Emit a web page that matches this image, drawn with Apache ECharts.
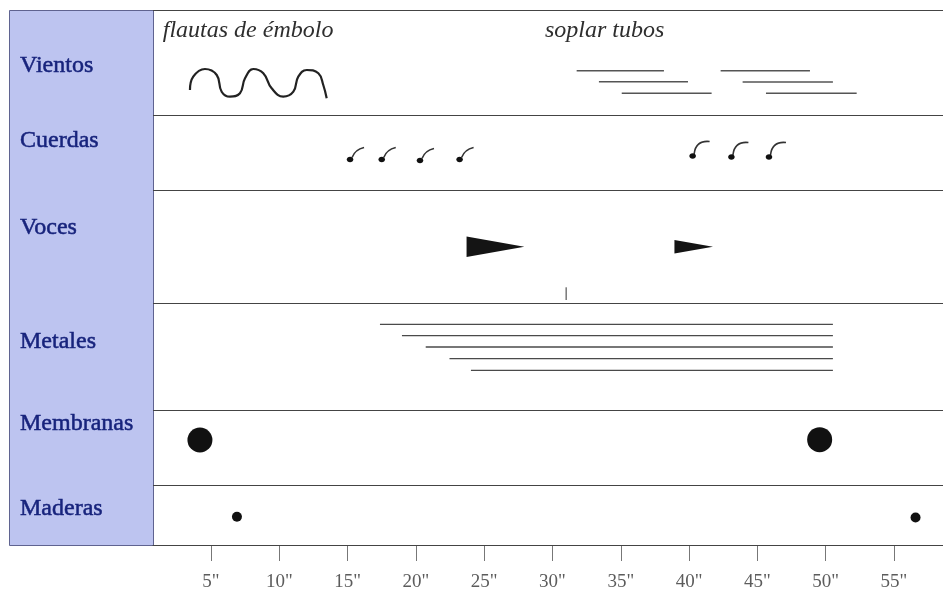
<!DOCTYPE html>
<html><head><meta charset="utf-8">
<script src="https://cdn.jsdelivr.net/npm/echarts@6/dist/echarts.min.js"></script>
<style>html,body{margin:0;padding:0;background:#fff}#c{width:943px;height:592px}</style>
</head><body><div id="c"></div>
<script>
// ---- data (time in seconds on x; vertical position in score units, 0 = top) ----
const rows = ['Vientos', 'Cuerdas', 'Voces', 'Metales', 'Membranas', 'Maderas'];
const rowLabelY = [56, 131, 218, 332, 414, 499];
const rowBounds = [0, 105, 180, 293, 400, 475, 535];
const timeTicks = [5, 10, 15, 20, 25, 30, 35, 40, 45, 50, 55];

const annotations = ['flautas de émbolo', 'soplar tubos'];
const annotX = [1.47, 29.45];
const annotY = [21, 21];

// Vientos: flautas de émbolo (glissando wave)
const flautaX = [3.46, 3.70, 4.56, 5.42, 5.78, 6.39, 7.12, 7.49, 8.10, 8.83, 9.44, 10.29, 11.03, 11.39, 12.01, 12.86, 13.22, 13.47];
const flautaY = [80, 66.7, 59, 65, 81.7, 86.7, 83.3, 68.3, 59, 63.3, 78.3, 86.7, 81.7, 66.7, 60, 63.3, 75, 88.3];

// Vientos: soplar tubos (sustained lines)
const soplarStart = [31.77, 33.40, 35.07, 42.31, 43.92, 45.63];
const soplarEnd   = [38.16, 39.92, 41.65, 48.85, 50.53, 52.27];
const soplarY     = [60.7, 71.7, 83.3, 60.7, 72, 83.3];

// Cuerdas: plucked glissando notes (glyph 0 = short tail, 1 = tall tail)
const cuerdasX = [15.18, 17.5, 20.3, 23.2, 40.26, 43.1, 45.85];
const cuerdasY = [149.5, 149.5, 150.5, 149.5, 146, 147, 147];
const cuerdasGlyph = [0, 0, 0, 0, 1, 1, 1];

// Voces: wedges (diminuendo)
const vocesStart = [23.71, 38.93];
const vocesEnd   = [27.94, 41.75];
const vocesY     = [236.7, 236.7];
const vocesHalf  = [10.3, 6.7];
const vocesMarkX = [31.0];
const vocesMarkTop = [277.3];
const vocesMarkBottom = [290];

// Metales: sustained lines
const metalesStart = [17.37, 18.98, 20.72, 22.46, 24.03];
const metalesEnd   = [50.53, 50.53, 50.53, 50.53, 50.53];
const metalesY     = [314.3, 325.7, 337, 348.7, 360.3];

// Membranas / Maderas: strokes
const membranasX = [4.19, 49.56];
const membranasY = [430, 429.7];
const maderasX = [6.9, 56.58];
const maderasY = [506.7, 507.5];

// ---- chart ----
const serif = '"Liberation Serif", "Times New Roman", serif';
const chart = echarts.init(document.getElementById('c'));

function segRender(color, width) {
  return function (params, api) {
    const p1 = api.coord([api.value(0), api.value(2)]);
    const p2 = api.coord([api.value(1), api.value(2)]);
    return { type: 'line', shape: { x1: p1[0], y1: p1[1], x2: p2[0], y2: p2[1] },
             style: { stroke: color, lineWidth: width } };
  };
}

chart.setOption({
  animation: false,
  backgroundColor: '#ffffff',
  graphic: [{
    type: 'rect', z: -10, left: 9, top: 10,
    shape: { width: 144, height: 535 },
    style: { fill: '#bdc4f0', stroke: '#5f6390', lineWidth: 1 }
  }],
  grid: { left: 153, right: 0, top: 10, bottom: 47, containLabel: false, outerBoundsMode: 'none' },
  xAxis: {
    type: 'value', min: 0.754, max: 58.59, position: 'bottom',
    splitLine: { show: false },
    axisLine: { show: true, onZero: false, lineStyle: { color: '#444', width: 1.2 } },
    axisTick: { show: true, customValues: timeTicks, length: 16, lineStyle: { color: '#777', width: 1 } },
    axisLabel: { customValues: timeTicks, formatter: v => v + '"', margin: 28,
                 color: '#5c5c5c', fontSize: 19, fontFamily: serif }
  },
  yAxis: {
    type: 'value', inverse: true, min: 0, max: 535,
    splitLine: { show: false },
    axisLine: { show: false },
    axisTick: { show: false },
    axisLabel: {
      customValues: rowLabelY,
      formatter: v => rows[rowLabelY.indexOf(v)] || '',
      align: 'left', verticalAlign: 'middle', margin: 133,
      color: '#17237c', fontSize: 24, fontFamily: serif,
      textBorderColor: '#17237c', textBorderWidth: 0.5
    }
  },
  series: [
    { type: 'custom', name: 'annot',
      data: annotX.map((x, i) => [x, annotY[i], i]),
      renderItem: (params, api) => {
        const p = api.coord([api.value(0), api.value(1)]);
        return { type: 'text', x: p[0], y: p[1],
                 style: { text: annotations[api.value(2)], fill: '#2e2e2e', fontSize: 24,
                          fontStyle: 'italic', fontFamily: serif, align: 'left', verticalAlign: 'middle' } };
      } },
    { type: 'line', name: 'flautas', smooth: 0.45, showSymbol: false,
      data: flautaX.map((x, i) => [x, flautaY[i]]),
      lineStyle: { color: '#222', width: 2.2 } },
    { type: 'custom', name: 'soplar',
      data: soplarStart.map((s, i) => [s, soplarEnd[i], soplarY[i]]),
      renderItem: segRender('#555', 1.5) },
    { type: 'custom', name: 'cuerdas',
      data: cuerdasX.map((x, i) => [x, cuerdasY[i], cuerdasGlyph[i]]),
      renderItem: (params, api) => {
        const h = api.coord([api.value(0), api.value(1)]);
        const g = api.value(2);
        const tail = g === 0
          ? { x1: h[0] + 2, y1: h[1] - 2, cpx1: h[0] + 5, cpy1: h[1] - 10, x2: h[0] + 14, y2: h[1] - 12 }
          : { x1: h[0] + 1.5, y1: h[1] - 2, cpx1: h[0] + 3, cpy1: h[1] - 16, x2: h[0] + 17, y2: h[1] - 14.5 };
        return { type: 'group', children: [
          { type: 'bezierCurve', shape: tail, style: { stroke: '#333', lineWidth: 1.6, fill: null } },
          { type: 'ellipse', shape: { cx: h[0], cy: h[1], rx: 3.3, ry: 2.7 }, style: { fill: '#111' } }
        ] };
      } },
    { type: 'custom', name: 'voces',
      data: vocesStart.map((s, i) => [s, vocesEnd[i], vocesY[i], vocesHalf[i]]),
      renderItem: (params, api) => {
        const s = api.value(0), e = api.value(1), y = api.value(2), hh = api.value(3);
        return { type: 'polygon', shape: { points: [api.coord([s, y - hh]), api.coord([e, y]), api.coord([s, y + hh])] },
                 style: { fill: '#141414' } };
      } },
    { type: 'custom', name: 'vocesMark',
      data: vocesMarkX.map((x, i) => [vocesMarkTop[i], vocesMarkBottom[i], x]),
      renderItem: (params, api) => {
        const p1 = api.coord([api.value(2), api.value(0)]);
        const p2 = api.coord([api.value(2), api.value(1)]);
        return { type: 'line', shape: { x1: p1[0], y1: p1[1], x2: p2[0], y2: p2[1] }, style: { stroke: '#333', lineWidth: 1 } };
      } },
    { type: 'custom', name: 'metales',
      data: metalesStart.map((s, i) => [s, metalesEnd[i], metalesY[i]]),
      renderItem: segRender('#4a4a4a', 1.3),
      markLine: { silent: true, symbol: ['none', 'none'], label: { show: false },
                  lineStyle: { color: '#444', width: 1.2, type: 'solid' },
                  data: rowBounds.map(v => ({ yAxis: v })) } },
    { type: 'scatter', name: 'membranas', symbolSize: 25,
      data: membranasX.map((x, i) => [x, membranasY[i]]),
      itemStyle: { color: '#111', opacity: 1 } },
    { type: 'scatter', name: 'maderas', symbolSize: 10,
      data: maderasX.map((x, i) => [x, maderasY[i]]),
      itemStyle: { color: '#111', opacity: 1 } }
  ]
});
</script></body></html>
